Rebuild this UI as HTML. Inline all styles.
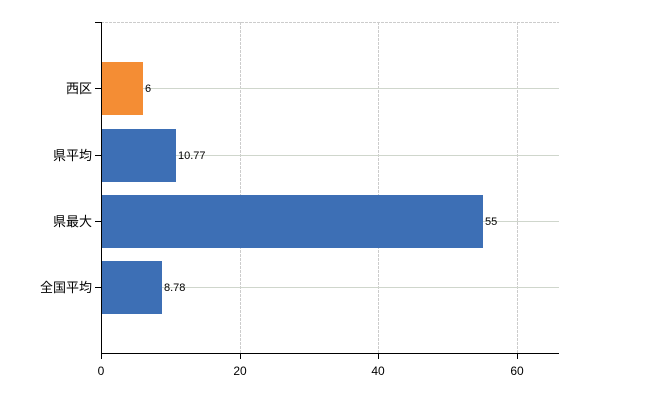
<!DOCTYPE html>
<html><head><meta charset="utf-8"><style>body{margin:0;background:#fff}svg{display:block}</style></head><body>
<svg width="650" height="400" xmlns="http://www.w3.org/2000/svg" font-family="'Liberation Sans','Noto Sans CJK JP',sans-serif">
<g stroke="#ccc" stroke-width="1" stroke-dasharray="3,1">
<line x1="101" y1="22.5" x2="559" y2="22.5"/>
<line x1="240.5" y1="22" x2="240.5" y2="353"/>
<line x1="378.5" y1="22" x2="378.5" y2="353"/>
<line x1="517.5" y1="22" x2="517.5" y2="353"/>
</g>
<g stroke="#cfd6cc" stroke-width="1">
<line x1="101" y1="88.5" x2="559" y2="88.5"/>
<line x1="101" y1="155.5" x2="559" y2="155.5"/>
<line x1="101" y1="221.5" x2="559" y2="221.5"/>
<line x1="101" y1="287.5" x2="559" y2="287.5"/>
</g>
<rect x="101" y="62" width="42" height="53" fill="#f48d34"/>
<rect x="101" y="129" width="75" height="53" fill="#3d6fb5"/>
<rect x="101" y="195" width="382" height="53" fill="#3d6fb5"/>
<rect x="101" y="261" width="61" height="53" fill="#3d6fb5"/>
<g font-size="11" fill="#000">
<text x="145" y="92">6</text>
<text x="178" y="159">10.77</text>
<text x="485" y="225">55</text>
<text x="164" y="291">8.78</text>
</g>
<g stroke="#000" stroke-width="1">
<line x1="101.5" y1="22" x2="101.5" y2="353"/>
<line x1="101" y1="353.5" x2="559" y2="353.5"/>
<line x1="95" y1="22.5" x2="101" y2="22.5"/>
<line x1="95" y1="88.5" x2="101" y2="88.5"/>
<line x1="95" y1="155.5" x2="101" y2="155.5"/>
<line x1="95" y1="221.5" x2="101" y2="221.5"/>
<line x1="95" y1="287.5" x2="101" y2="287.5"/>
<line x1="101.5" y1="353" x2="101.5" y2="359"/>
<line x1="240.5" y1="353" x2="240.5" y2="359"/>
<line x1="378.5" y1="353" x2="378.5" y2="359"/>
<line x1="517.5" y1="353" x2="517.5" y2="359"/>
</g>
<g font-size="13" fill="#000" text-anchor="end">
<text x="92" y="93">西区</text>
<text x="92" y="160">県平均</text>
<text x="92" y="226">県最大</text>
<text x="92" y="292">全国平均</text>
</g>
<g font-size="12" fill="#000" text-anchor="middle">
<text x="101" y="375">0</text>
<text x="240" y="375">20</text>
<text x="378" y="375">40</text>
<text x="517" y="375">60</text>
</g>
</svg>
</body></html>
